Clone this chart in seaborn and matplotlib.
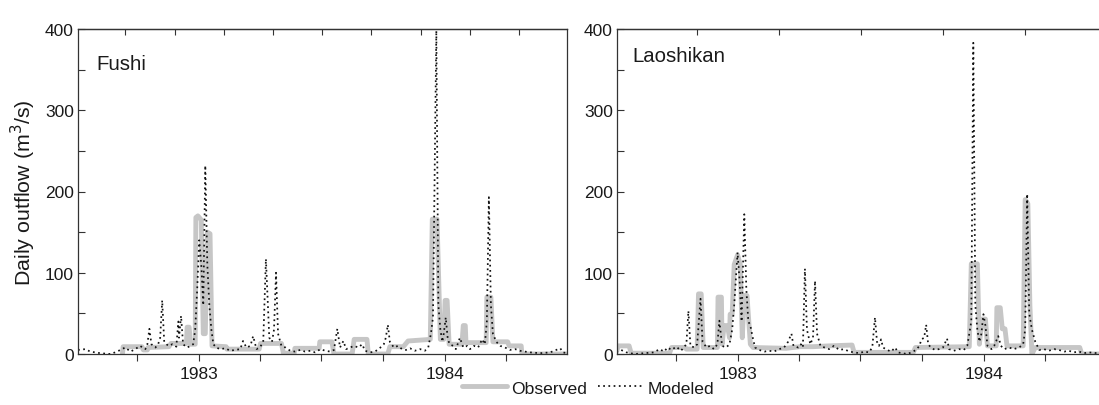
import numpy as np
import pandas as pd
import matplotlib
matplotlib.use("Agg")
import matplotlib.pyplot as plt
import matplotlib.dates as mdates
from matplotlib.lines import Line2D
import seaborn as sns

# ---------------- data (days since 1982-07-01, daily outflow m3/s) ----------------
fushi_obs_day = [70, 71, 99, 101, 107, 108, 139, 142, 165, 166, 169, 171, 178, 179, 182, 187, 190, 193,
                 196, 200, 203, 224, 225, 273, 275, 306, 309, 325, 326, 362, 363, 381, 384, 411, 414, 433,
                 435, 464, 467, 487, 494, 527, 530, 537, 542, 547, 549, 552, 555, 574, 576, 579, 580, 610,
                 611, 617, 620, 642, 644, 662, 663, 730]
fushi_obs_q = [0, 9, 9, 5, 5, 8, 9, 13, 13, 33, 33, 12, 12, 168, 170, 165, 25, 25,
               150, 148, 10, 9, 6, 6, 13, 13, 1, 1, 7, 7, 15, 15, 0, 0, 18, 18,
               0, 0, 9, 9, 16, 18, 166, 166, 18, 18, 66, 66, 12, 12, 35, 35, 14, 14,
               70, 70, 15, 15, 10, 10, 0, 0]

fushi_mod_day = [4, 15, 22, 37, 52, 59, 67, 74, 82, 89, 96, 104, 107, 110, 113, 119, 123, 126, 129, 132,
                 138, 144, 150, 153, 154, 157, 160, 166, 171, 175, 178, 181, 184, 187, 190, 193, 196, 199,
                 202, 205, 209, 215, 223, 230, 237, 245, 249, 254, 260, 264, 269, 274, 279, 283, 288, 292,
                 295, 298, 301, 306, 312, 319, 326, 334, 341, 349, 356, 364, 371, 378, 384, 389, 393, 398,
                 402, 408, 414, 420, 426, 430, 438, 445, 453, 458, 461, 464, 467, 473, 479, 485, 491, 497,
                 504, 512, 519, 524, 528, 531, 536, 539, 542, 545, 547, 550, 553, 556, 561, 565, 571, 576,
                 582, 586, 592, 598, 604, 608, 611, 614, 617, 620, 625, 631, 638, 645, 653, 660, 668, 675,
                 690, 705, 720, 724, 730]
fushi_mod_q = [5, 6, 3, 1, 0, 2, 5, 8, 3, 6, 10, 6, 12, 31, 12, 8, 12, 20, 66, 15,
               10, 12, 9, 40, 20, 47, 12, 8, 10, 12, 30, 80, 140, 110, 60, 232, 110, 60,
               30, 12, 8, 6, 7, 4, 5, 6, 16, 8, 10, 22, 6, 8, 15, 117, 20, 15,
               30, 100, 25, 10, 8, 4, 3, 5, 3, 4, 2, 6, 4, 3, 5, 31, 8, 16,
               6, 8, 10, 8, 12, 4, 2, 3, 8, 12, 20, 36, 15, 8, 10, 6, 5, 7,
               4, 6, 4, 8, 25, 45, 398, 60, 30, 15, 25, 45, 18, 12, 10, 6, 20, 8,
               10, 6, 10, 8, 18, 12, 40, 193, 60, 25, 15, 10, 8, 5, 6, 4, 3, 2,
               1, 2, 7, 2, 1]

lao_obs_day = [3, 6, 22, 25, 82, 85, 105, 107, 123, 125, 129, 132, 153, 154, 159, 160, 163, 168, 171, 172,
               175, 178, 183, 187, 190, 193, 197, 202, 206, 255, 276, 295, 319, 353, 356, 444, 447, 527,
               530, 539, 542, 546, 551, 554, 567, 568, 573, 576, 580, 583, 607, 610, 614, 617, 620, 625,
               691, 694, 729]
lao_obs_q = [2, 10, 10, 1, 1, 8, 8, 6, 6, 74, 74, 8, 8, 70, 70, 12, 35, 35, 20, 49,
             49, 110, 122, 110, 20, 72, 72, 12, 8, 7, 9, 9, 10, 11, 2, 2, 8, 9,
             111, 111, 12, 43, 43, 10, 10, 57, 57, 31, 31, 10, 10, 190, 185, 60, 0, 8,
             8, 0, 0]

lao_mod_day = [3, 10, 18, 30, 45, 59, 67, 74, 79, 85, 92, 99, 107, 110, 113, 119, 123, 128, 131, 137,
               142, 148, 153, 156, 160, 166, 171, 175, 178, 183, 186, 189, 193, 196, 199, 202, 205, 209,
               215, 223, 230, 237, 245, 252, 258, 263, 266, 273, 277, 280, 283, 286, 291, 295, 298, 301,
               306, 312, 319, 326, 334, 341, 349, 356, 364, 371, 378, 383, 387, 390, 393, 396, 399, 405,
               411, 417, 421, 427, 435, 441, 448, 453, 456, 460, 463, 466, 470, 476, 482, 488, 494, 497,
               504, 512, 519, 524, 527, 530, 533, 536, 539, 542, 545, 548, 551, 554, 560, 564, 570, 574,
               579, 586, 593, 601, 607, 610, 613, 616, 620, 625, 631, 638, 645, 653, 660, 668, 675, 682,
               690, 697, 705, 717, 729]
lao_mod_q = [3, 5, 2, 0, 1, 2, 6, 3, 8, 5, 9, 4, 12, 53, 10, 8, 12, 68, 15, 8,
             10, 6, 12, 41, 10, 8, 12, 30, 60, 125, 90, 40, 172, 80, 40, 35, 22, 8,
             5, 3, 4, 3, 6, 8, 15, 25, 10, 8, 12, 8, 105, 30, 12, 20, 90, 25,
             10, 8, 6, 10, 5, 6, 3, 2, 1, 3, 2, 8, 45, 15, 10, 18, 8, 5,
             3, 8, 2, 1, 0, 2, 5, 10, 18, 20, 36, 12, 8, 5, 6, 8, 19, 6,
             4, 6, 5, 10, 25, 40, 383, 60, 30, 15, 25, 49, 35, 10, 6, 10, 22, 10,
             6, 8, 6, 8, 12, 30, 197, 50, 30, 15, 5, 6, 4, 6, 5, 3, 4, 2,
             3, 1, 2, 1, 2]

stations = ["Fushi", "Laoshikan"]
series_labels = ["Observed", "Modeled"]
y_label = "Daily outflow (m$^3$/s)"

# ---------------- styling ----------------
sns.set_style("ticks")
plt.rcParams["font.family"] = ["Liberation Sans", "DejaVu Sans"]
plt.rcParams["axes.linewidth"] = 0.9

OBS_COLOR = "#c6c6c6"
MOD_COLOR = "#111111"
MOD_DASH = (0, (1.0, 2.0))
OBS_LW = 3.5
MOD_LW = 1.25
TXT = "#1a1a1a"

origin = pd.Timestamp("1982-07-01")


def to_dates(days):
    return origin + pd.to_timedelta(np.asarray(days, dtype=float), unit="D")


fig = plt.figure(figsize=(10.99, 4.06), dpi=100)
ax_l = fig.add_axes([78 / 1099, 51 / 406, 489 / 1099, 325 / 406])
ax_r = fig.add_axes([617 / 1099, 51 / 406, 489 / 1099, 325 / 406])

panels = [
    (ax_l, fushi_obs_day, fushi_obs_q, fushi_mod_day, fushi_mod_q, stations[0], (0.037, 0.893), -0.3, 0.2),
    (ax_r, lao_obs_day, lao_obs_q, lao_mod_day, lao_mod_q, stations[1], (0.031, 0.918), -1 / 6, 1 / 3),
]

x0 = pd.Timestamp("1982-07-05")
x1 = pd.Timestamp("1984-06-30")
jan83 = pd.Timestamp("1983-01-01")

for ax, od, oq, md, mq, name, tpos, tstart, tstep in panels:
    obs = pd.DataFrame({"date": to_dates(od), "q": oq})
    mod = pd.DataFrame({"date": to_dates(md), "q": mq})
    sns.lineplot(data=obs, x="date", y="q", ax=ax, color=OBS_COLOR, linewidth=OBS_LW,
                 estimator=None, sort=False, solid_joinstyle="round")
    sns.lineplot(data=mod, x="date", y="q", ax=ax, color=MOD_COLOR, linewidth=MOD_LW,
                 linestyle=MOD_DASH, estimator=None, sort=False)
    ax.set_xlim(x0, x1)
    ax.set_ylim(0, 400)
    ax.set_xlabel("")
    ax.set_ylabel("")
    ax.set_yticks([0, 100, 200, 300, 400])
    ax.set_yticks([50, 150, 250, 350], minor=True)
    ax.xaxis.set_major_locator(mdates.YearLocator())
    ax.xaxis.set_major_formatter(mdates.DateFormatter("%Y"))
    ax.xaxis.set_minor_locator(mdates.MonthLocator(bymonth=[1, 4, 7, 10]))
    ax.tick_params(axis="y", which="both", direction="in", length=5, width=0.8,
                   labelsize=12.5, pad=3, colors="#333333", labelcolor=TXT)
    ax.tick_params(axis="x", which="both", direction="out", length=5, width=0.8,
                   labelsize=12.5, pad=4, colors="#333333", labelcolor=TXT)
    for sp in ax.spines.values():
        sp.set_visible(True)
        sp.set_color("#333333")
    # top ticks
    sec = ax.secondary_xaxis("top")
    tops = [mdates.date2num(jan83 + pd.Timedelta(days=(tstart + k * tstep) * 365.25)) for k in range(0, 12)]
    tops = [t for t in tops if mdates.date2num(x0) < t < mdates.date2num(x1)]
    sec.set_xticks(tops)
    sec.set_xticklabels([""] * len(tops))
    sec.tick_params(axis="x", direction="in", length=4, width=0.8, colors="#333333")
    sec.spines["top"].set_color("#333333")
    ax.text(tpos[0], tpos[1], name, transform=ax.transAxes, fontsize=14.7,
            ha="left", va="center", color=TXT)

ax_l.set_ylabel(y_label, fontsize=15.4, labelpad=5, color=TXT)

handles = [Line2D([], [], color=OBS_COLOR, linewidth=OBS_LW),
           Line2D([], [], color=MOD_COLOR, linewidth=MOD_LW, linestyle=MOD_DASH)]
fig.legend(handles, series_labels, loc="center", bbox_to_anchor=(0.535, 0.042), ncol=2,
           frameon=False, fontsize=12.6, handlelength=2.6, handletextpad=0.25,
           columnspacing=0.6, borderaxespad=0, labelcolor=TXT)

fig.savefig("out.png", dpi=100)
